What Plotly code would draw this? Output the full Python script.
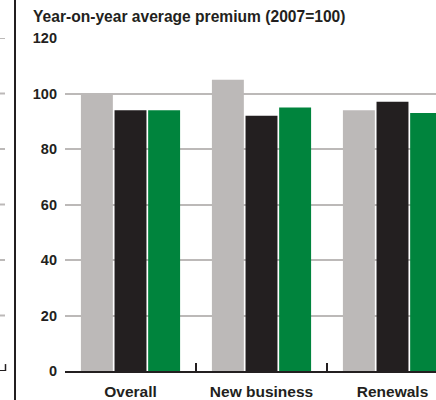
import plotly.graph_objects as go

categories = ["Overall", "New business", "Renewals"]
series_a = [100, 105, 94]   # light grey
series_b = [94, 92, 97]     # black
series_c = [94, 95, 93]     # green
y_ticks = [0, 20, 40, 60, 80, 100, 120]

colors = ["#bcb9b8", "#231f20", "#00843d"]
FONT = "Liberation Sans, Arial, Helvetica, sans-serif"

fig = go.Figure()
for vals, col in zip([series_a, series_b, series_c], colors):
    fig.add_trace(go.Bar(x=categories, y=vals, marker=dict(color=col, line=dict(width=0)),
                         showlegend=False, hoverinfo="x+y"))

W, H = 436, 400
L, R, T, B = 65, 0, 38, 29
pw = W - L - R
ph = H - T - B

def px(x):
    return (x - L) / pw

shapes = []
# decorative fragments of the neighbouring panel on the left
shapes.append(dict(type="line", xref="paper", yref="paper", x0=px(15), x1=px(15), y0=-B / ph, y1=1 + T / ph,
                   line=dict(color="#231f20", width=2)))
for v in y_ticks[1:]:
    shapes.append(dict(type="line", xref="paper", yref="y", x0=px(0), x1=px(5), y0=v, y1=v,
                       line=dict(color="#bcb9b8", width=2)))
shapes.append(dict(type="line", xref="paper", yref="y", x0=px(0), x1=px(6), y0=0, y1=0,
                   line=dict(color="#231f20", width=2)))
shapes.append(dict(type="line", xref="paper", yref="y", x0=px(5.5), x1=px(5.5), y0=0, y1=2.5,
                   line=dict(color="#231f20", width=1.5)))

fig.update_layout(
    width=W, height=H,
    margin=dict(l=L, r=R, t=T, b=B),
    paper_bgcolor="white", plot_bgcolor="white",
    barmode="group", bargap=0.23, bargroupgap=0.05,
    font=dict(family=FONT, color="#231f20"),
    shapes=shapes,
    annotations=[dict(text="<b>Year-on-year average premium (2007=100)</b>", xref="paper", yref="paper",
                      x=px(31), y=1 + (T - 17) / ph, xanchor="left", yanchor="middle",
                      showarrow=False, font=dict(size=15.6, family=FONT, color="#231f20"))],
    xaxis=dict(range=[-0.5, -0.5 + pw / 131.0], showgrid=False, showline=True, linecolor="#231f20",
               linewidth=2, ticks="inside", tickson="boundaries", ticklen=8, tickwidth=1.5,
               tickcolor="#231f20", tickfont=dict(size=15.5, family=FONT, color="#231f20", weight="bold"),
               ticklabelstandoff=5, fixedrange=True),
    yaxis=dict(range=[0, 120], tickvals=y_ticks, showgrid=True, gridcolor="#bcb9b8", gridwidth=2,
               zeroline=False, showline=False, ticks="", ticklabelstandoff=7,
               tickfont=dict(size=14.5, family=FONT, color="#231f20", weight="bold"), fixedrange=True),
)

fig.write_html("out.html", config={"displayModeBar": False},
               post_script="document.body.style.margin='0';document.body.style.overflow='hidden';")
